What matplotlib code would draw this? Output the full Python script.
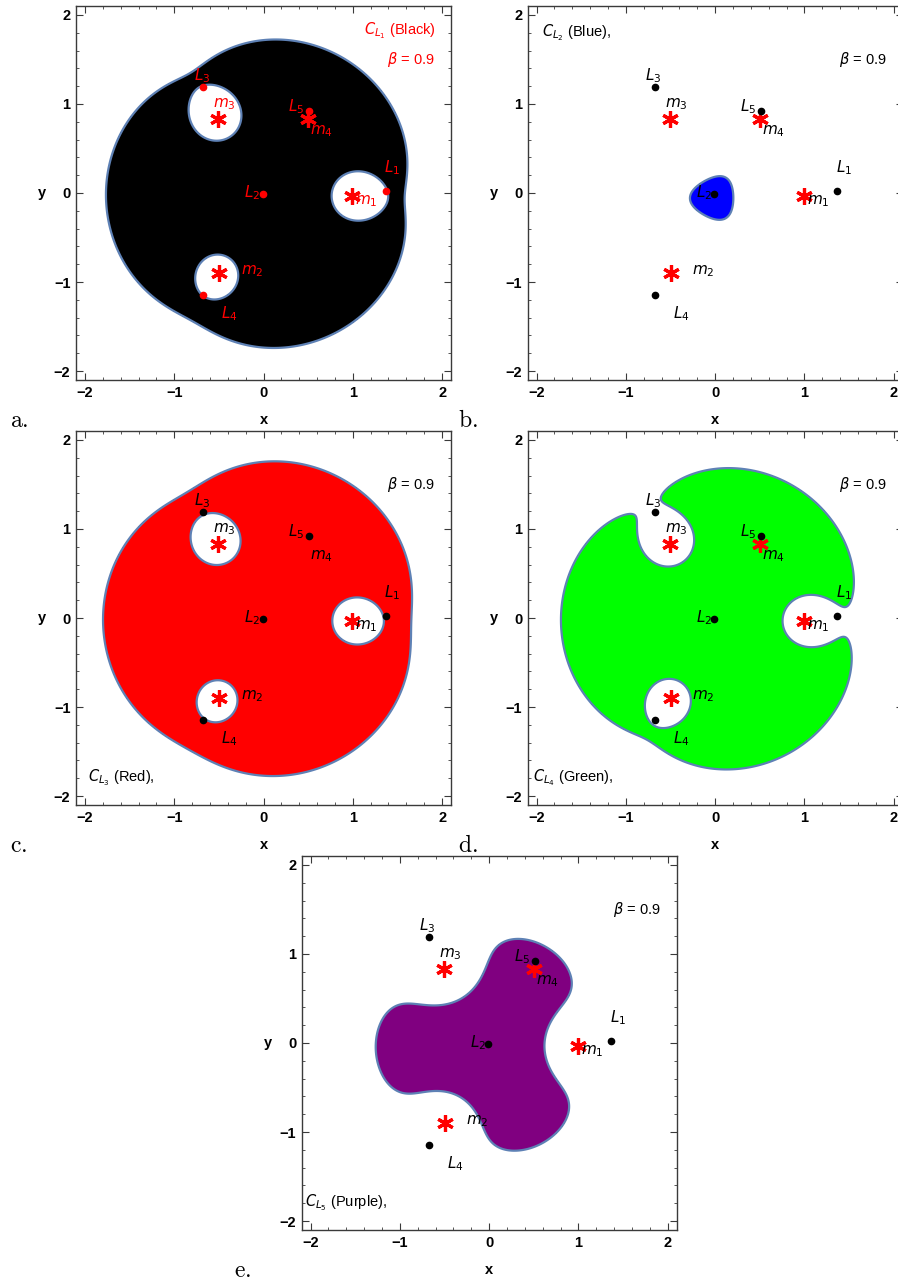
import numpy as np
import matplotlib
matplotlib.use("Agg")
import matplotlib.pyplot as plt
from matplotlib.ticker import MultipleLocator

# ---------------- data ----------------
# primaries (star markers) and their mass parameters
mass_names = ["m_1", "m_2", "m_3", "m_4"]
mass_x = [0.996, -0.500, -0.507, 0.500]
mass_y = [-0.032, -0.897, 0.833, 0.833]
mass_mu = [0.3218, 0.263, 0.3414, 0.002]

# equilibrium points
L_names = ["L_1", "L_2", "L_3", "L_4", "L_5"]
L_x = [1.369, -0.011, -0.675, -0.675, 0.511]
L_y = [0.017, -0.013, 1.191, -1.150, 0.919]

# label anchor points (data coords)
Llab_x = [1.444, -0.13, -0.69, -0.38, 0.37]
Llab_y = [0.285, 0.0, 1.32, -1.36, 0.97]
mlab_x = [1.15, -0.13, -0.44, 0.65]
mlab_y = [-0.09, -0.88, 1.0, 0.70]

# Jacobi-constant levels of each panel
panel_letters = ["a.", "b.", "c.", "d.", "e."]
panel_C = [2.07, 0.97, 2.12, 2.015, 1.474]
panel_colors = ["#000000", "#0000ff", "#ff0000", "#00ff00", "#800080"]
panel_titles = [r"$C_{L_1}$ (Black)", r"$C_{L_2}$ (Blue),", r"$C_{L_3}$ (Red),",
                r"$C_{L_4}$ (Green),", r"$C_{L_5}$ (Purple),"]
beta_text = r"$\beta$ = 0.9"

ticks = [-2, -1, 0, 1, 2]
tick_labels = ["\u22122", "\u22121", "0", "1", "2"]

# ---------------- figure ----------------
W, H = 898, 1283
fig = plt.figure(figsize=(W / 100, H / 100), dpi=100)

# axes boxes in pixels: left, top, width, height
boxes = [(76, 6, 375, 374), (527.7, 6, 375, 374), (76, 431, 375, 374),
         (527.7, 431, 375, 374), (301.7, 856, 375, 374)]
letter_pos = [(10, 427), (458, 427), (10, 852), (458, 852), (234, 1277)]

xg = np.linspace(-2.1, 2.1, 900)
X, Y = np.meshgrid(xg, xg)
Om = 0.5 * (X ** 2 + Y ** 2)
for xm, ym, mu in zip(mass_x, mass_y, mass_mu):
    Om = Om + mu / np.maximum(np.hypot(X - xm, Y - ym), 1e-4)
Om = np.minimum(Om, 50)

edge_col = "#5e81b5"
frame_col = "#3a3a3a"

for i in range(5):
    l, t, w, h = boxes[i]
    ax = fig.add_axes([l / W, 1 - (t + h) / H, w / W, h / H])
    C = panel_C[i]
    ax.contourf(X, Y, Om, levels=[Om.min() - 1, C], colors=[panel_colors[i]])
    ax.contour(X, Y, Om, levels=[C], colors=[edge_col], linewidths=1.6)

    txtcol = "red" if i == 0 else "black"
    # masses
    for j in range(4):
        if not (i == 2 and j == 3):
            ax.plot(mass_x[j], mass_y[j], marker=(6, 2, 0), ms=12, mew=2.3,
                    color="red", ls="none", zorder=5)
        ax.text(mlab_x[j], mlab_y[j], "$" + mass_names[j] + "$", color=txtcol,
                fontsize=11, ha="center", va="center", zorder=6)
    # equilibrium points
    for j in range(5):
        ax.plot(L_x[j], L_y[j], "o", ms=4.5, color=txtcol, zorder=6)
        ax.text(Llab_x[j], Llab_y[j], "$" + L_names[j] + "$", color=txtcol,
                fontsize=11, ha="center", va="center", zorder=6)

    # annotations
    if i == 0:
        ax.text(1.93, 1.82, panel_titles[i], color="red", fontsize=10.5,
                ha="right", va="center", family="Liberation Sans")
        ax.text(1.92, 1.50, beta_text, color="red", fontsize=10.5,
                ha="right", va="center", family="Liberation Sans")
    else:
        ax.text(1.92, 1.50, beta_text, color="black", fontsize=10.5,
                ha="right", va="center", family="Liberation Sans")
        if i == 1:
            ax.text(-1.94, 1.80, panel_titles[i], color="black", fontsize=10.5,
                    ha="left", va="center", family="Liberation Sans")
        else:
            xs = {2: -1.97, 3: -2.04, 4: -2.06}[i]
            ax.text(xs, -1.79, panel_titles[i], color="black", fontsize=10.5,
                    ha="left", va="center", family="Liberation Sans")

    ax.set_xlim(-2.1, 2.1)
    ax.set_ylim(-2.1, 2.1)
    ax.set_xticks(ticks)
    ax.set_yticks(ticks)
    ax.set_xticklabels(tick_labels, fontweight="bold", fontsize=10.5,
                       family="Liberation Sans")
    ax.set_yticklabels(tick_labels, fontweight="bold", fontsize=10.5,
                       family="Liberation Sans")
    ax.xaxis.set_minor_locator(MultipleLocator(0.2))
    ax.yaxis.set_minor_locator(MultipleLocator(0.2))
    ax.tick_params(which="both", direction="in", top=True, right=True,
                   color=frame_col)
    ax.tick_params(which="major", length=5, width=0.8, pad=4)
    ax.tick_params(which="minor", length=2.5, width=0.6)
    for s in ax.spines.values():
        s.set_color(frame_col)
        s.set_linewidth(1.0)
    ax.set_xlabel("x", fontweight="bold", fontsize=10.5, family="Liberation Sans")
    ax.set_ylabel("y", fontweight="bold", fontsize=10.5, family="Liberation Sans",
                  rotation=0, va="center", ha="center")
    ax.xaxis.set_label_coords(0.5, -0.088)
    ax.yaxis.set_label_coords(-0.09, 0.5)

    lx, ly = letter_pos[i]
    fig.text(lx / W, 1 - ly / H, r"$\mathrm{" + panel_letters[i] + "}$",
             math_fontfamily="cm", fontsize=17, ha="left", va="baseline")

fig.savefig("out.png", dpi=100)
